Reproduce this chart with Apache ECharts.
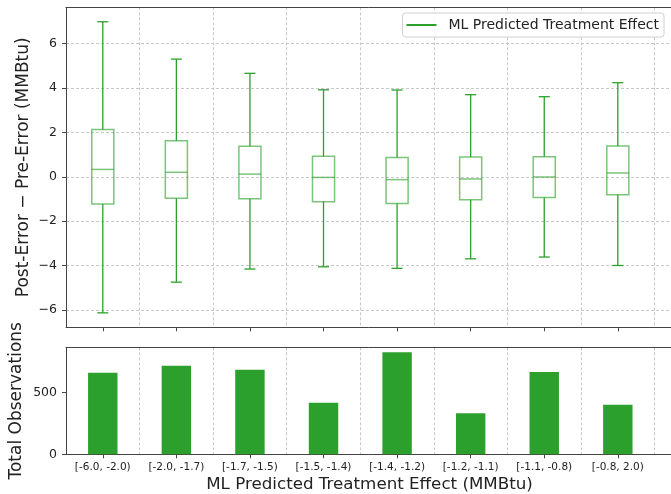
<!DOCTYPE html>
<html>
<head>
<meta charset="utf-8">
<script src="https://cdn.jsdelivr.net/npm/echarts@6/dist/echarts.min.js"></script>
<style>html,body{margin:0;padding:0;background:#fff}#c{width:671px;height:494px}</style>
</head>
<body>
<div id="c"></div>
<script>
const categories = ['[-6.0, -2.0)', '[-2.0, -1.7)', '[-1.7, -1.5)', '[-1.5, -1.4)', '[-1.4, -1.2)', '[-1.2, -1.1)', '[-1.1, -0.8)', '[-0.8, 2.0)'];
const whiskerLow = [-6.12, -4.74, -4.15, -4.05, -4.12, -3.69, -3.61, -3.99];
const q1 = [-1.23, -0.97, -0.99, -1.12, -1.20, -1.03, -0.93, -0.81];
const median = [0.33, 0.20, 0.12, -0.03, -0.13, -0.10, -0.01, 0.17];
const q3 = [2.13, 1.62, 1.37, 0.92, 0.87, 0.89, 0.90, 1.38];
const whiskerHigh = [6.97, 5.29, 4.65, 3.91, 3.90, 3.69, 3.60, 4.23];
const counts = [661, 718, 685, 418, 826, 332, 667, 402];
const topTicks = [-6, -4, -2, 0, 2, 4, 6];
const bottomTicks = [0, 500];
const catTicks = [0, 1, 2, 3, 4, 5, 6, 7];
const gridTicks = [-0.5, 0.5, 1.5, 2.5, 3.5, 4.5, 5.5, 6.5, 7.5];

const GREEN = '#2ca02c';
const BOXC = 'rgba(44,160,44,0.62)';
const AX = '#444';
const TXT = '#222';
const FONT = 'DejaVu Sans';
const dash = {color: '#c8c8c8', width: 1, type: [3, 2]};

const boxData = categories.map((c, i) => [i, whiskerLow[i], q1[i], median[i], q3[i], whiskerHigh[i]]);
const barData = categories.map((c, i) => [i, counts[i]]);
const fmtMinus = v => (v < 0 ? '\u2212' + Math.abs(v) : String(v));

function xAxes(gridIndex, showLabels) {
  return [
    {
      type: 'value', gridIndex, min: -0.5, max: 7.75, position: 'bottom',
      axisLine: {show: true, onZero: false, lineStyle: {color: AX, width: 1}},
      axisTick: {show: true, length: 4, customValues: catTicks, lineStyle: {color: AX}},
      axisLabel: {show: showLabels, customValues: catTicks, margin: 7, fontSize: 10.5, color: TXT, fontFamily: FONT,
        formatter: v => categories[Math.round(v)] || ''},
      splitLine: {show: false},
      name: showLabels ? 'ML Predicted Treatment Effect (MMBtu)' : '',
      nameLocation: 'middle', nameGap: 22, nameMoveOverlap: false,
      nameTextStyle: {fontSize: 16.7, color: TXT, fontFamily: FONT}
    },
    {
      type: 'value', gridIndex, min: -0.5, max: 7.75, position: 'top',
      axisLine: {show: true, onZero: false, lineStyle: {color: AX, width: 1}},
      axisTick: {show: false, customValues: gridTicks},
      axisLabel: {show: false, customValues: gridTicks},
      splitLine: {show: true, lineStyle: dash}
    }
  ];
}

const option = {
  animation: false,
  backgroundColor: '#fff',
  textStyle: {fontFamily: FONT},
  grid: [
    {left: 66, right: -2, top: 7.3, height: 320, containLabel: false, outerBoundsMode: 'none'},
    {left: 66, right: -2, top: 347.3, height: 107, containLabel: false, outerBoundsMode: 'none'}
  ],
  legend: {
    right: 7, top: 13,
    data: [{name: 'ML Predicted Treatment Effect', icon: 'rect'}],
    itemWidth: 30, itemHeight: 2,
    itemStyle: {color: GREEN},
    padding: [5, 5, 5, 4],
    borderColor: '#d0d0d0', borderWidth: 1, borderRadius: 3,
    backgroundColor: 'rgba(255,255,255,0.85)',
    textStyle: {fontSize: 14, color: TXT, fontFamily: FONT, padding: [0, 0, 0, 7]}
  },
  xAxis: [...xAxes(0, false), ...xAxes(1, true)],
  yAxis: [
    {
      type: 'value', gridIndex: 0, min: -6.77, max: 7.62,
      axisLine: {show: true, onZero: false, lineStyle: {color: AX, width: 1}},
      axisTick: {show: true, length: 4, customValues: topTicks, lineStyle: {color: AX}},
      axisLabel: {customValues: topTicks, margin: 9, fontSize: 12.5, color: TXT, fontFamily: FONT, formatter: fmtMinus},
      splitLine: {show: true, lineStyle: dash},
      name: 'Post-Error \u2212 Pre-Error (MMBtu)', nameLocation: 'middle', nameGap: 34, nameMoveOverlap: false,
      nameTextStyle: {fontSize: 17, color: TXT, fontFamily: FONT}
    },
    {
      type: 'value', gridIndex: 1, min: 0, max: 867,
      axisLine: {show: true, onZero: false, lineStyle: {color: AX, width: 1}},
      axisTick: {show: true, length: 4, customValues: bottomTicks, lineStyle: {color: AX}},
      axisLabel: {customValues: bottomTicks, margin: 9, fontSize: 12.5, color: TXT, fontFamily: FONT},
      splitLine: {show: false},
      name: 'Total Observations', nameLocation: 'middle', nameGap: 41, nameMoveOverlap: false,
      nameTextStyle: {fontSize: 17, color: TXT, fontFamily: FONT}
    }
  ],
  series: [
    {
      name: 'ML Predicted Treatment Effect',
      type: 'custom', xAxisIndex: 0, yAxisIndex: 0,
      itemStyle: {color: GREEN},
      encode: {x: 0, y: [1, 2, 3, 4, 5]},
      data: boxData,
      renderItem: function (params, api) {
        const x = api.value(0);
        const w = api.size([0.3, 0])[0];
        const cw = w / 2;
        const pLo = api.coord([x, api.value(1)]);
        const pQ1 = api.coord([x, api.value(2)]);
        const pMed = api.coord([x, api.value(3)]);
        const pQ3 = api.coord([x, api.value(4)]);
        const pHi = api.coord([x, api.value(5)]);
        const cx = pMed[0];
        const ws = {stroke: GREEN, lineWidth: 1.3};
        const bs = {stroke: BOXC, lineWidth: 1.5, fill: 'none'};
        return {
          type: 'group',
          children: [
            {type: 'line', shape: {x1: cx, y1: pQ3[1], x2: cx, y2: pHi[1]}, style: ws},
            {type: 'line', shape: {x1: cx, y1: pQ1[1], x2: cx, y2: pLo[1]}, style: ws},
            {type: 'line', shape: {x1: cx - cw / 2, y1: pHi[1], x2: cx + cw / 2, y2: pHi[1]}, style: ws},
            {type: 'line', shape: {x1: cx - cw / 2, y1: pLo[1], x2: cx + cw / 2, y2: pLo[1]}, style: ws},
            {type: 'rect', shape: {x: cx - w / 2, y: pQ3[1], width: w, height: pQ1[1] - pQ3[1]}, style: bs},
            {type: 'line', shape: {x1: cx - w / 2, y1: pMed[1], x2: cx + w / 2, y2: pMed[1]}, style: {stroke: BOXC, lineWidth: 1.5}}
          ]
        };
      }
    },
    {
      name: 'Total Observations',
      type: 'custom', xAxisIndex: 2, yAxisIndex: 1,
      itemStyle: {color: GREEN},
      encode: {x: 0, y: 1},
      data: barData,
      renderItem: function (params, api) {
        const x = api.value(0);
        const w = api.size([0.4, 0])[0];
        const top = api.coord([x, api.value(1)]);
        const base = api.coord([x, 0]);
        return {
          type: 'rect',
          shape: {x: top[0] - w / 2, y: top[1], width: w, height: base[1] - top[1]},
          style: {fill: GREEN}
        };
      }
    }
  ]
};

const chart = echarts.init(document.getElementById('c'), null, {renderer: 'canvas'});
chart.setOption(option);
</script>
</body>
</html>
